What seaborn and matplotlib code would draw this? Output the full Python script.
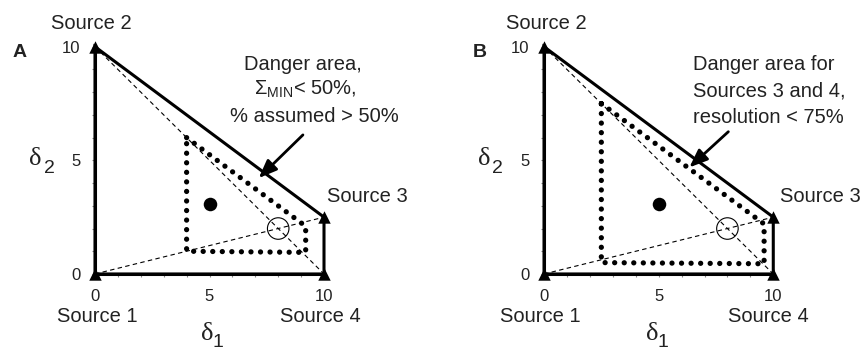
import matplotlib
matplotlib.use("Agg")
import matplotlib.pyplot as plt
import seaborn as sns
import pandas as pd

# the four sources, delta_1 / delta_2
source_names = ["Source 1", "Source 2", "Source 3", "Source 4"]
source_d1 = [0, 0, 10, 10]
source_d2 = [0, 10, 2.5, 0]

# mixture (filled dot) and crossing of the diagonals (open circle)
mix_d1 = [5.0]
mix_d2 = [3.1]
cross_d1 = [8.0]
cross_d2 = [2.0]

# dotted danger areas
danger_a_d1 = [4.0, 9.2, 9.2, 4.0, 4.0]
danger_a_d2 = [6.0, 2.1, 0.95, 1.0, 6.0]
danger_b_d1 = [2.5, 9.6, 9.6, 2.5, 2.5]
danger_b_d2 = [7.5, 2.2, 0.45, 0.5, 7.5]

major_ticks = [0, 5, 10]
minor_ticks = list(range(11))

text_a = ["Danger area,", r"$\Sigma_{\mathrm{MIN}}$< 50%,", "% assumed > 50%"]
text_b = ["Danger area for", "Sources 3 and 4,", "resolution < 75%"]

sns.set_theme(style="white")
plt.rcParams["font.family"] = ["Liberation Sans", "DejaVu Sans"]
plt.rcParams["mathtext.fontset"] = "custom"
plt.rcParams["mathtext.rm"] = "Liberation Sans"
plt.rcParams["mathtext.it"] = "Liberation Sans"
plt.rcParams["mathtext.bf"] = "Liberation Sans:bold"

FS = 14.5
src = pd.DataFrame({"d1": source_d1, "d2": source_d2, "name": source_names})


def draw_panel(ax, dx, dy, lines, layout):
    # outline of the source polygon
    ox = source_d1 + [source_d1[0]]
    oy = source_d2 + [source_d2[0]]
    ax.plot(ox, oy, color="black", lw=2.2, solid_joinstyle="miter", zorder=3)
    # diagonals
    ax.plot([source_d1[1], source_d1[3]], [source_d2[1], source_d2[3]],
            color="black", lw=0.8, ls=(0, (4, 3)), zorder=2)
    ax.plot([source_d1[0], source_d1[2]], [source_d2[0], source_d2[2]],
            color="black", lw=0.8, ls=(0, (4, 3)), zorder=2)
    # danger area
    ax.plot(dx, dy, color="black", lw=3.8, ls=(0, (0.01, 1.8)),
            dash_capstyle="round", zorder=2)

    sns.scatterplot(data=src, x="d1", y="d2", marker="^", s=80, color="black",
                    edgecolor="black", linewidth=0, ax=ax, zorder=5, clip_on=False)
    sns.scatterplot(x=mix_d1, y=mix_d2, s=95, color="black", edgecolor="black",
                    linewidth=0, ax=ax, zorder=4)
    sns.scatterplot(x=cross_d1, y=cross_d2, s=240, facecolor="none",
                    edgecolor="black", linewidth=0.8, ax=ax, zorder=4)

    ax.set_xlim(-1, 11)
    ax.set_ylim(-1, 11)
    for side in ["top", "right"]:
        ax.spines[side].set_visible(False)
    for side in ["left", "bottom"]:
        ax.spines[side].set_position(("data", 0))
        ax.spines[side].set_bounds(0, 10)
        ax.spines[side].set_linewidth(2.2)
        ax.spines[side].set_color("black")
    ax.set_xticks(major_ticks)
    ax.set_yticks(major_ticks)
    ax.set_xticks(minor_ticks, minor=True)
    ax.set_yticks(minor_ticks, minor=True)
    ax.tick_params(which="both", direction="out", length=2.5, width=0.8,
                   color="#888888", labelsize=12, labelcolor="#222222")
    ax.tick_params(axis="x", which="both", bottom=True, pad=8.5)
    ax.tick_params(axis="y", which="both", left=True, pad=8)
    ax.set_xlabel("")
    ax.set_ylabel("")
    ax.grid(False)

    for name, (x, y, ha) in layout["sources"].items():
        ax.text(x, y, name, fontsize=FS, ha=ha, va="center", color="#222222")

    for txt, (x, y, ha) in zip(lines, layout["text"]):
        ax.text(x, y, txt, fontsize=FS, ha=ha, va="baseline", color="#222222")

    ax.annotate("", xy=layout["arrow"][0], xytext=layout["arrow"][1],
                arrowprops=dict(arrowstyle="-|>,head_length=0.55,head_width=0.22",
                                lw=2, color="black", shrinkA=0, shrinkB=0,
                                mutation_scale=20), zorder=6)

    # delta axis labels
    (x2, y2), (x1, y1) = layout["delta"]
    ax.text(x2, y2, "\u03b4", fontsize=19, family="Liberation Serif",
            ha="center", va="baseline", color="#222222")
    ax.text(x2 + 0.58, y2 - 0.37, "2", fontsize=14, ha="center", va="baseline",
            color="#222222")
    ax.text(x1, y1, "\u03b4", fontsize=19, family="Liberation Serif",
            ha="center", va="baseline", color="#222222")
    ax.text(x1 + 0.5, y1 - 0.3, "1", fontsize=14, ha="center", va="baseline",
            color="#222222")


fig = plt.figure(figsize=(8.63, 3.51), dpi=100)
ax_a = fig.add_axes([72.1 / 863, 54.3 / 351, 274.8 / 863, 272.7 / 351])
ax_b = fig.add_axes([521.1 / 863, 54.3 / 351, 275.1 / 863, 272.7 / 351])

layout_a = {
    "sources": {"Source 1": (0.09, -1.89, "center"), "Source 2": (-0.17, 11.01, "center"),
                "Source 3": (10.13, 3.43, "left"), "Source 4": (9.83, -1.89, "center")},
    "text": [(9.06, 8.97, "center"), (9.19, 7.87, "center"), (9.56, 6.70, "center")],
    "arrow": [(7.15, 4.22), (9.08, 6.12)],
    "delta": [(-2.59, 4.80), (4.88, -2.9)],
}
layout_b = {
    "sources": {"Source 1": (-0.17, -1.89, "center"), "Source 2": (0.09, 11.01, "center"),
                "Source 3": (10.29, 3.43, "left"), "Source 4": (9.79, -1.89, "center")},
    "text": [(6.51, 8.97, "left"), (6.51, 7.81, "left"), (6.51, 6.65, "left")],
    "arrow": [(6.34, 4.69), (8.04, 6.26)],
    "delta": [(-2.61, 4.80), (4.70, -2.9)],
}

draw_panel(ax_a, danger_a_d1, danger_a_d2, text_a, layout_a)
draw_panel(ax_b, danger_b_d1, danger_b_d2, text_b, layout_b)

fig.text(19.5 / 863, 1 - 52.5 / 351, "A", fontsize=14, fontweight="bold",
         ha="center", va="center", color="#222222")
fig.text(479.7 / 863, 1 - 52.5 / 351, "B", fontsize=14, fontweight="bold",
         ha="center", va="center", color="#222222")

fig.savefig("out.png", dpi=100, facecolor="white")
